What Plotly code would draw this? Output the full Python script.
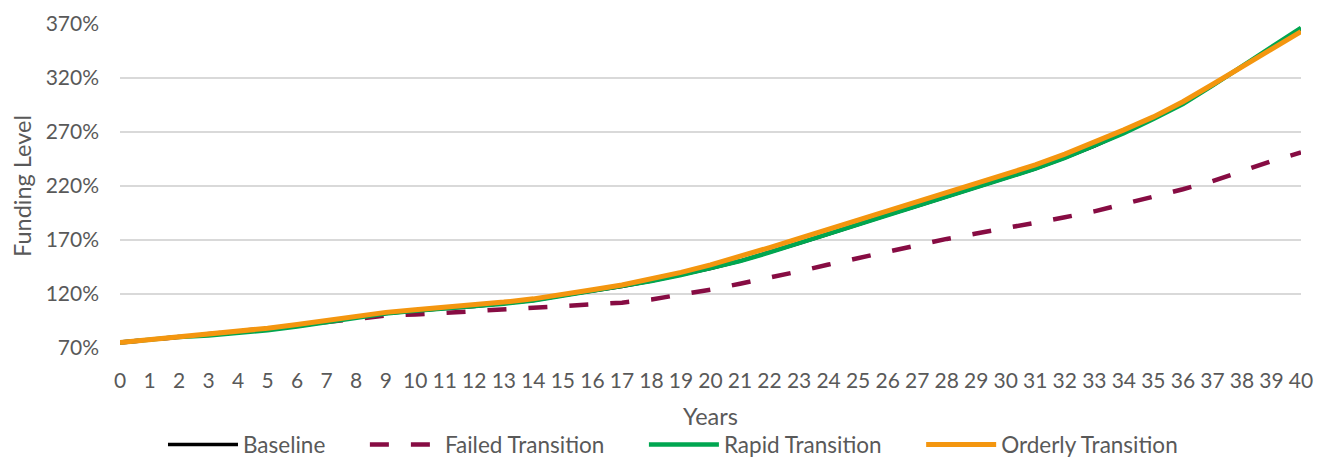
import plotly.graph_objects as go

years = list(range(0, 41))

baseline = [75, 77.8, 80.3, 82.8, 84.5, 87, 90.2, 94, 98.5, 102, 104.5, 106.5, 108.5, 111, 114,
            118.5, 122.5, 127, 132, 137.5, 143.5, 150.5, 158.5, 167, 175.5, 184.5, 193, 201.5,
            210, 218.5, 227, 236, 246, 257, 269.5, 282.5, 296.5, 313, 330.5, 348, 365.5]
failed = [75, 77.8, 80.3, 83.5, 85.5, 88, 91, 94.5, 98, 100, 101, 102.5, 104.5, 106, 107.3,
          108.5, 110, 112, 115, 119, 124, 129.5, 135, 141, 147.3, 153.3, 159, 165.5, 171, 176,
          180.7, 186, 191, 196.5, 203, 209.5, 217, 224.5, 234, 243, 251]
rapid = [75, 77.8, 80.3, 81.5, 83.5, 86.5, 90, 94, 98.5, 102, 104.5, 106.5, 108.5, 111, 114,
         118.5, 122.5, 127, 132, 137.5, 143.5, 150.5, 158.5, 167, 175.5, 184.5, 193, 201.5,
         210, 218.5, 227, 236, 246, 257, 269, 282, 296, 313, 330.5, 348.5, 366.5]
orderly = [75, 77.5, 80, 82.3, 85, 88.3, 91.8, 95.5, 99.5, 103, 105.5, 107.5, 110, 112.5, 115.5,
           120.3, 124, 128.3, 134, 140, 147, 154.5, 163, 171.5, 180, 188.5, 197, 205.5, 214,
           222.5, 231, 239.5, 249.5, 260.5, 272, 284, 298, 314, 330, 346.5, 363]

series_names = ["Baseline", "Failed Transition", "Rapid Transition", "Orderly Transition"]

y_ticks = [70, 120, 170, 220, 270, 320, 370]
y_tick_text = [f"{v}%" for v in y_ticks]

FONT = "Lato"
GREY = "#595959"
PAD = "\u00a0" * 6  # spacing between legend entries

fig = go.Figure()
fig.add_trace(go.Scatter(x=years, y=baseline, mode="lines", name=series_names[0] + PAD,
                         line=dict(color="#000000", width=3.5)))
fig.add_trace(go.Scatter(x=years, y=failed, mode="lines", name=series_names[1] + PAD,
                         line=dict(color="#870C43", width=4.5, dash="19px,22px")))
fig.add_trace(go.Scatter(x=years, y=rapid, mode="lines", name=series_names[2] + PAD,
                         line=dict(color="#00A650", width=4.5)))
fig.add_trace(go.Scatter(x=years, y=orderly, mode="lines", name=series_names[3],
                         line=dict(color="#F4960F", width=5)))

# page body has an 8px margin, so the figure is offset by 8px inside the window
fig.update_layout(
    width=1320, height=451,
    margin=dict(l=112, r=27, t=16, b=111, autoexpand=False),
    paper_bgcolor="white", plot_bgcolor="white",
    font=dict(family=FONT, size=21, color=GREY),
    showlegend=True,
    legend=dict(orientation="h", x=0.0364, xanchor="left", y=-0.299, yanchor="middle",
                font=dict(family=FONT, size=22.5, color=GREY), itemwidth=70,
                bgcolor="rgba(0,0,0,0)"),
)
fig.update_xaxes(
    range=[0, 40], tickmode="array", tickvals=years, ticktext=[str(y) for y in years],
    showgrid=False, showline=False, zeroline=False, ticks="", ticklabelstandoff=18,
    tickfont=dict(family=FONT, size=21, color=GREY),
    title=dict(text="Years", font=dict(family=FONT, size=23.5, color=GREY), standoff=17),
)
fig.update_yaxes(
    range=[70, 370], tickmode="array", tickvals=y_ticks, ticktext=y_tick_text,
    showgrid=True, gridcolor="#D9D9D9", gridwidth=2, zeroline=False, showline=False,
    ticks="", ticklabelstandoff=20,
    tickfont=dict(family=FONT, size=21, color=GREY),
    title=dict(text="Funding Level", font=dict(family=FONT, size=23.5, color=GREY), standoff=8),
)

fig.write_html("out.html")
